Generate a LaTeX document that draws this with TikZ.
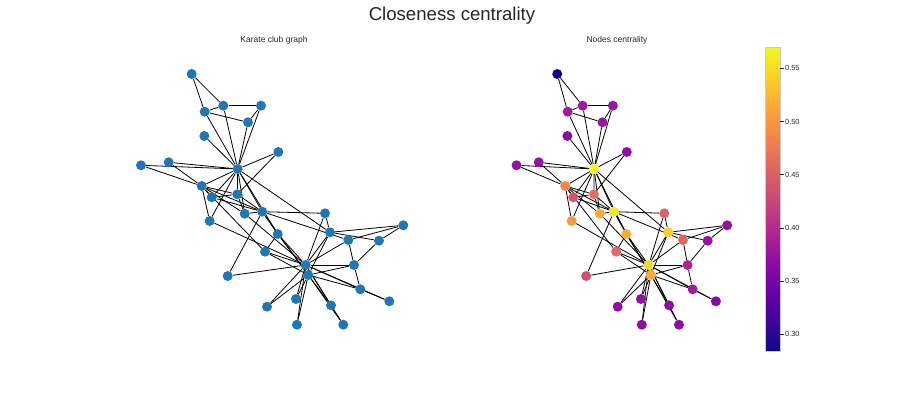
\documentclass[tikz,border=0pt]{standalone}
\usepackage{fontspec}
\setmainfont{Liberation Sans}
\usetikzlibrary{backgrounds}

\definecolor{nodeblue}{RGB}{31,119,180}
\definecolor{labelgray}{RGB}{38,38,38}
% plasma colour map, steps of 0.1
\definecolor{pl0}{RGB}{13,8,135}
\definecolor{pl1}{RGB}{65,4,157}
\definecolor{pl2}{RGB}{106,0,168}
\definecolor{pl3}{RGB}{143,13,164}
\definecolor{pl4}{RGB}{177,42,144}
\definecolor{pl5}{RGB}{204,71,120}
\definecolor{pl6}{RGB}{225,100,98}
\definecolor{pl7}{RGB}{242,132,75}
\definecolor{pl8}{RGB}{252,166,54}
\definecolor{pl9}{RGB}{252,206,37}
\definecolor{pl10}{RGB}{240,249,33}
\pgfdeclareverticalshading{plasma}{100bp}{color(0bp)=(pl0); color(25bp)=(pl0);
  color(30bp)=(pl1); color(35bp)=(pl2); color(40bp)=(pl3); color(45bp)=(pl4);
  color(50bp)=(pl5); color(55bp)=(pl6); color(60bp)=(pl7); color(65bp)=(pl8);
  color(70bp)=(pl9); color(75bp)=(pl10); color(100bp)=(pl10)}

% node colours from closeness centrality
\definecolor{c0}{RGB}{240,249,33}
\definecolor{c1}{RGB}{243,134,74}
\definecolor{c2}{RGB}{244,234,34}
\definecolor{c3}{RGB}{231,111,90}
\definecolor{c4}{RGB}{154,23,157}
\definecolor{c5}{RGB}{160,27,154}
\definecolor{c6}{RGB}{160,27,154}
\definecolor{c7}{RGB}{214,85,110}
\definecolor{c8}{RGB}{252,171,52}
\definecolor{c9}{RGB}{209,79,114}
\definecolor{c10}{RGB}{154,23,157}
\definecolor{c11}{RGB}{139,12,164}
\definecolor{c12}{RGB}{144,14,164}
\definecolor{c13}{RGB}{252,171,52}
\definecolor{c14}{RGB}{144,14,164}
\definecolor{c15}{RGB}{144,14,164}
\definecolor{c16}{RGB}{13,8,135}
\definecolor{c17}{RGB}{149,18,160}
\definecolor{c18}{RGB}{144,14,164}
\definecolor{c19}{RGB}{248,152,63}
\definecolor{c20}{RGB}{144,14,164}
\definecolor{c21}{RGB}{149,18,160}
\definecolor{c22}{RGB}{144,14,164}
\definecolor{c23}{RGB}{171,37,148}
\definecolor{c24}{RGB}{149,18,160}
\definecolor{c25}{RGB}{149,18,160}
\definecolor{c26}{RGB}{134,10,165}
\definecolor{c27}{RGB}{227,104,96}
\definecolor{c28}{RGB}{223,97,100}
\definecolor{c29}{RGB}{160,27,154}
\definecolor{c30}{RGB}{227,104,96}
\definecolor{c31}{RGB}{252,207,37}
\definecolor{c32}{RGB}{252,171,52}
\definecolor{c33}{RGB}{248,220,36}

\newcommand{\karatepos}{0/237.7/169, 1/201.7/186, 2/262.3/211.7, 3/237.3/194.3,
  4/248/122.3, 5/223.3/105.7, 6/204.7/111.7, 7/211.7/197.3, 8/277.7/234,
  9/227.7/276, 10/261/105.7, 11/204.3/136, 12/278.3/152, 13/244.7/213.7,
  14/296/299, 15/267/306.7, 16/191.7/74, 17/141/165.3, 18/331/305.3,
  19/209.7/221, 20/297/324.7, 21/168.7/162.3, 22/343.3/324.7, 23/354/265,
  24/403.3/225.3, 25/379/240.7, 26/389.3/301.3, 27/348.3/240, 28/325/213.3,
  29/360.3/289.3, 30/265/251.7, 31/330/232.3, 32/308.3/275, 33/305.7/265}
\newcommand{\karateedges}{0/1, 0/2, 0/3, 0/4, 0/5, 0/6, 0/7, 0/8, 0/10, 0/11,
  0/12, 0/13, 0/17, 0/19, 0/21, 0/31, 1/2, 1/3, 1/7, 1/13, 1/17, 1/19, 1/21,
  1/30, 2/3, 2/7, 2/8, 2/9, 2/13, 2/27, 2/28, 2/32, 3/7, 3/12, 3/13, 4/6, 4/10,
  5/6, 5/10, 5/16, 6/16, 8/30, 8/32, 8/33, 9/33, 13/33, 14/32, 14/33, 15/32,
  15/33, 18/32, 18/33, 19/33, 20/32, 20/33, 22/32, 22/33, 23/25, 23/27, 23/29,
  23/32, 23/33, 24/25, 24/27, 24/31, 25/31, 26/29, 26/33, 27/33, 28/31, 28/33,
  29/32, 29/33, 30/32, 30/33, 31/32, 31/33, 32/33}

\begin{document}
\begin{tikzpicture}[x=1pt, y=-1pt,
  vertex/.style={circle, inner sep=0pt, minimum size=10pt},
  link/.style={black, line width=0.8pt},
  subtitle/.style={font=\fontsize{8.5}{10}\selectfont, text=labelgray}]
\useasboundingbox (0,0) rectangle (904,396);

\node[font=\fontsize{18.6}{22}\selectfont, text=labelgray] (title) at (452,16) {Closeness centrality};
\node[subtitle] (lefttitle) at (274,40) {Karate club graph};
\node[subtitle] (righttitle) at (617,40) {Nodes centrality};

% left graph
\foreach \i/\x/\y in \karatepos
  \node[vertex, fill=nodeblue] (a\i) at (\x,\y) {};
\begin{scope}[on background layer]
\foreach \u/\v in \karateedges
  \draw[link] (a\u) -- (a\v);
\end{scope}

% right graph, same layout squeezed
\begin{scope}[shift={(403.3,0)}, xscale=0.803]
\foreach \i/\x/\y in \karatepos
  \node[vertex, fill=c\i] (b\i) at (\x,\y) {};
\begin{scope}[on background layer]
\foreach \u/\v in \karateedges
  \draw[link] (b\u) -- (b\v);
\end{scope}
\end{scope}

% colour bar
\shade[shading=plasma] (765,351) rectangle (780,47.3);
\draw[black!20, line width=0.4pt] (765,351) rectangle (780,47.3);
\foreach \v/\y in {0.30/334.3, 0.35/281.1, 0.40/227.9, 0.45/174.7, 0.50/121.5, 0.55/68.3} {
  \draw[labelgray, line width=0.5pt] (780,\y) -- (783.5,\y);
  \node[anchor=west, inner sep=0pt, font=\fontsize{7.4}{9}\selectfont, text=labelgray] (tick\v) at (785,\y) {\v};
}
\end{tikzpicture}
\end{document}
